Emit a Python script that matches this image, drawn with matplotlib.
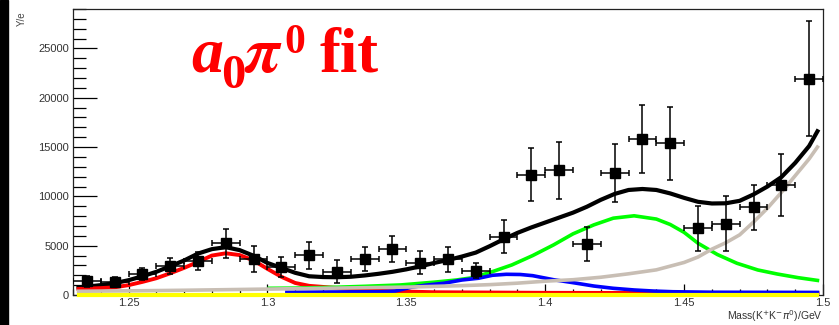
import numpy as np
import matplotlib
matplotlib.use('Agg')
import matplotlib.pyplot as plt
from matplotlib.ticker import MultipleLocator
from matplotlib.patches import Rectangle

# binned data: Mass(K+K-pi0) bin centres, events / bin, errors
mass = [1.235, 1.245, 1.255, 1.265, 1.275, 1.285, 1.295, 1.305, 1.315, 1.325,
        1.335, 1.345, 1.355, 1.365, 1.375, 1.385, 1.395, 1.405, 1.415, 1.425,
        1.435, 1.445, 1.455, 1.465, 1.475, 1.485, 1.495]
counts = [1400, 1300, 2100, 2950, 3450, 5250, 3650, 2810, 4030, 2370,
          3660, 4670, 3280, 3620, 2470, 5930, 12190, 12630, 5180, 12360,
          15820, 15380, 6770, 7210, 8910, 11180, 21950]
errors = [550, 500, 600, 800, 880, 1490, 1280, 1000, 1350, 1170,
          1220, 1290, 1180, 1270, 780, 1690, 2680, 2850, 1750, 2960,
          3450, 3730, 2290, 2790, 2290, 3130, 5840]
bin_half = 0.005

# fit curves
total_x = [1.232, 1.235, 1.24, 1.245, 1.25, 1.255, 1.26, 1.265, 1.27, 1.275, 1.28,
           1.285, 1.29, 1.295, 1.30, 1.305, 1.31, 1.315, 1.32, 1.325, 1.33, 1.335,
           1.34, 1.345, 1.35, 1.355, 1.36, 1.365, 1.37, 1.375, 1.38, 1.385, 1.39,
           1.395, 1.40, 1.405, 1.41, 1.415, 1.42, 1.425, 1.43, 1.435, 1.44, 1.445,
           1.45, 1.455, 1.46, 1.465, 1.47, 1.475, 1.48, 1.485, 1.49, 1.495, 1.498]
total_y = [760, 850, 1000, 1200, 1500, 1900, 2350, 2910, 3500, 4200, 4650,
           4850, 4550, 3980, 3250, 2750, 2250, 1900, 1820, 1800, 1850, 1980,
           2150, 2350, 2600, 2900, 3250, 3550, 3900, 4300, 4950, 5650, 6300,
           6850, 7350, 7850, 8350, 8950, 9650, 10250, 10650, 10750, 10650, 10300,
           9850, 9450, 9280, 9300, 9550, 10200, 11000, 11950, 13400, 15100, 16600]

red_x = [1.232, 1.24, 1.245, 1.25, 1.255, 1.26, 1.265, 1.27, 1.275, 1.28, 1.285,
         1.29, 1.295, 1.30, 1.305, 1.31, 1.315, 1.32, 1.33, 1.34, 1.36, 1.40,
         1.44, 1.47, 1.498]
red_y = [610, 700, 780, 1000, 1330, 1700, 2200, 2750, 3350, 4000, 4230,
         4050, 3500, 2650, 1850, 1220, 930, 820, 600, 420, 280, 220,
         200, 190, 180]

green_x = [1.3007, 1.31, 1.324, 1.335, 1.348, 1.36, 1.368, 1.374, 1.381, 1.388,
           1.3955, 1.403, 1.41, 1.4175, 1.4245, 1.432, 1.44, 1.445, 1.45, 1.455,
           1.462, 1.469, 1.4765, 1.4835, 1.491, 1.498]
green_y = [680, 700, 780, 880, 1020, 1300, 1520, 1760, 2370, 3050,
           4000, 5080, 6200, 7110, 7790, 8030, 7700, 7150, 6350, 5250,
           4100, 3220, 2540, 2130, 1760, 1480]

blue_x = [1.307, 1.34, 1.346, 1.352, 1.357, 1.3635, 1.37, 1.376, 1.381, 1.386,
          1.391, 1.3955, 1.403, 1.41, 1.4175, 1.4245, 1.432, 1.439, 1.446, 1.46,
          1.498]
blue_y = [280, 330, 400, 800, 1000, 1190, 1520, 1700, 2000, 2100,
          2080, 1960, 1550, 1250, 910, 680, 510, 400, 330, 280,
          260]

bkg_x = [1.232, 1.25, 1.27, 1.30, 1.33, 1.35, 1.37, 1.38, 1.39, 1.40, 1.41,
         1.42, 1.43, 1.44, 1.45, 1.455, 1.46, 1.465, 1.47, 1.475, 1.48,
         1.485, 1.49, 1.495, 1.498]
bkg_y = [380, 420, 480, 600, 720, 800, 950, 1050, 1200, 1400, 1550,
         1800, 2150, 2550, 3300, 3850, 4650, 5300, 6100, 7400, 8800,
         10400, 12100, 13800, 15000]

flat_x = [1.232, 1.498]
flat_y = [0, 0]

fig = plt.figure(figsize=(8.39, 3.25), dpi=100)
fig.patches.append(Rectangle((0, 0), 8 / 839, 1, transform=fig.transFigure,
                             color='black', zorder=0))
ax = fig.add_axes([73 / 839, 1 - 295 / 325, 750 / 839, 286 / 325])

ax.plot(total_x, total_y, color='black', lw=3.0, zorder=3)
ax.plot(red_x, red_y, color='#ff0000', lw=2.8, zorder=3)
ax.plot(green_x, green_y, color='#00ff00', lw=2.6, zorder=3)
ax.plot(blue_x, blue_y, color='#0000ff', lw=2.6, zorder=3)
ax.plot(bkg_x, bkg_y, color='#c8beb4', lw=2.6, zorder=3)
ax.plot(flat_x, flat_y, color='#ffff00', lw=3.0, zorder=4, clip_on=False)

ax.errorbar(mass, counts, yerr=errors, xerr=bin_half, fmt='s', color='black',
            ms=7.3, elinewidth=1.1, capsize=2.5, capthick=1.1, zorder=5)

ax.set_xlim(1.23, 1.5)
ax.set_ylim(0, 29000)
ax.xaxis.set_major_locator(MultipleLocator(0.05))
ax.xaxis.set_minor_locator(MultipleLocator(0.01))
ax.yaxis.set_major_locator(MultipleLocator(5000))
ax.yaxis.set_minor_locator(MultipleLocator(1000))
ax.set_xticks([1.25, 1.3, 1.35, 1.4, 1.45, 1.5])
ax.set_xticklabels(['1.25', '1.3', '1.35', '1.4', '1.45', '1.5'])

ax.tick_params(axis='y', which='major', direction='in', length=17, width=0.9,
               pad=3, labelsize=8, labelcolor='#333333')
ax.tick_params(axis='y', which='minor', direction='in', length=9.5, width=0.9)
ax.tick_params(axis='x', which='major', direction='in', length=8, width=0.9,
               pad=2, labelsize=8, labelcolor='#333333')
ax.tick_params(axis='x', which='minor', direction='in', length=4, width=0.9)
for lab in ax.get_xticklabels() + ax.get_yticklabels():
    lab.set_family('Liberation Sans')
for sp in ax.spines.values():
    sp.set_linewidth(0.9)
    sp.set_color('#222222')

fig.text(0.026, 0.965, 'Y/e', rotation=90, ha='center', va='top',
         fontsize=7, color='#444444', family='Liberation Sans')
fig.text(823 / 839, 1 - 316 / 325, r'Mass(K$^{+}$K$^{-}\pi^{0}$)/GeV',
         ha='right', va='center', fontsize=7.5, color='#333333',
         family='Liberation Sans')

# title "a0 pi0 fit" built from pieces (pixel positions from the picture)
title_parts = [('a', 191, 72, 46, 'italic'),
               ('0', 221, 88, 35, 'normal'),
               ('0', 284, 53, 30, 'normal'),
               ('fit', 320, 72, 45, 'normal')]
for txt, px, py, size, style in title_parts:
    fig.text(px / 839, 1 - py / 325, txt, ha='left', va='baseline',
             fontsize=size, color='#ff0000', family='Liberation Serif',
             weight='bold', style=style)
fig.text(244 / 839, 1 - 72 / 325, r'$\mathbfit{\pi}$', ha='left',
         va='baseline', fontsize=46, color='#ff0000', math_fontfamily='stix')

fig.savefig('out.png', dpi=100)
